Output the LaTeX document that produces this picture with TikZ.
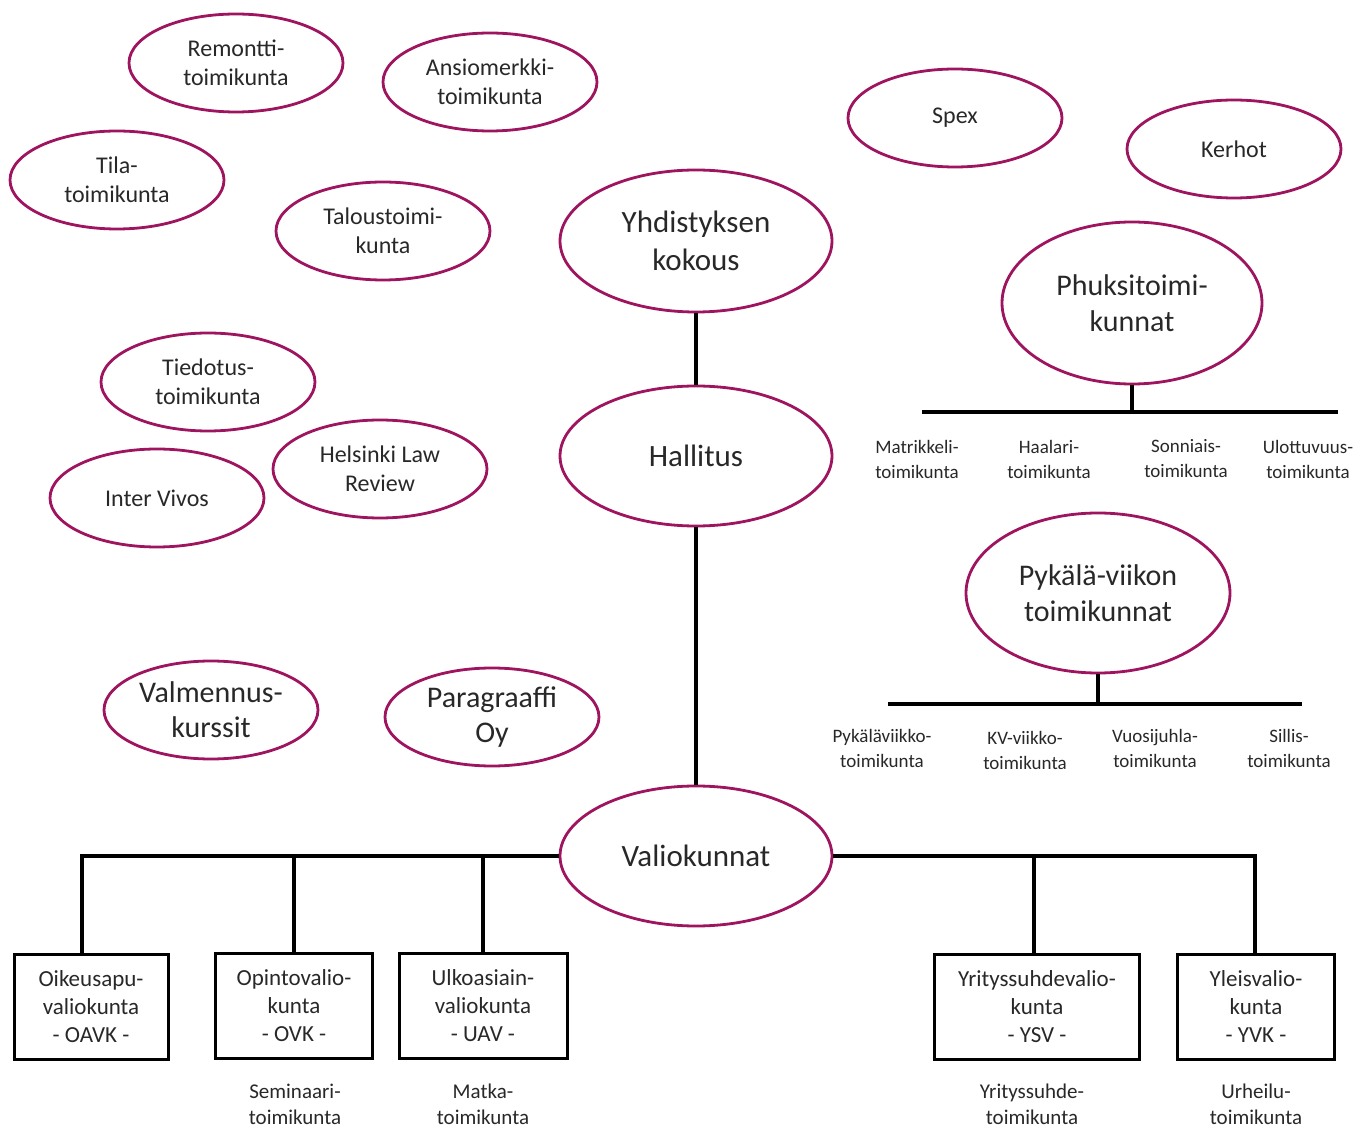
\documentclass[tikz,border=0pt]{standalone}
\usepackage{fontspec}
\setmainfont{Carlito}
\usetikzlibrary{shapes.geometric}
\definecolor{elc}{RGB}{158,20,95}
\definecolor{txt}{RGB}{40,40,40}
\tikzset{
  ell/.style={ellipse, draw=elc, line width=1.4pt, inner sep=0pt, align=center, text=txt},
  sml/.style={ell, minimum width=107pt, minimum height=49pt, font=\fontsize{12}{14.5}\selectfont},
  big/.style={ell, font=\fontsize{15.5}{19}\selectfont},
  vbox/.style={draw=black, line width=1.5pt, inner sep=0pt, align=center, text=txt, minimum height=52.5pt, font=\fontsize{11.5}{14}\selectfont},
  lab/.style={align=center, text=txt, inner sep=0pt, font=\fontsize{9.5}{12.5}\selectfont},
  blab/.style={align=center, text=txt, inner sep=0pt, font=\fontsize{10.5}{13}\selectfont},
  con/.style={draw=black, line width=2pt}
}
\begin{document}
\begin{tikzpicture}[x=0.5pt,y=-0.5pt]
\useasboundingbox (0,0) rectangle (1372,1128);
% small ellipses
\node[sml] (rem) at (236,63) {Remontti-\\toimikunta};
\node[sml] (ans) at (490,82) {Ansiomerkki-\\toimikunta};
\node[sml] (tila) at (117,180) {Tila-\\toimikunta};
\node[sml] (tal) at (383,231) {Taloustoimi-\\kunta};
\node[sml] (spex) at (955,118) {Spex};
\node[sml] (ker) at (1234,149) {Kerhot};
\node[sml] (tie) at (208,382) {Tiedotus-\\toimikunta};
\node[sml] (hlr) at (380,469) {Helsinki Law\\Review};
\node[sml] (iv) at (157,498) {Inter Vivos};
\node[sml, font=\fontsize{15}{17.5}\selectfont] (val1) at (211,710) {Valmennus-\\kurssit};
\node[sml, font=\fontsize{15}{17.5}\selectfont] (par) at (492,717) {Paragraaffi\\Oy};
% big ellipses
\node[big, minimum width=136pt, minimum height=71pt] (yk) at (696,241) {Yhdistyksen\\kokous};
\node[big, minimum width=136pt, minimum height=70pt] (hal) at (696,456) {Hallitus};
\node[big, minimum width=136pt, minimum height=70pt] (val) at (696,856) {Valiokunnat};
\node[big, minimum width=130pt, minimum height=81pt, font=\fontsize{15}{18}\selectfont] (phu) at (1132,303) {Phuksitoimi-\\kunnat};
\node[big, minimum width=132pt, minimum height=80pt, font=\fontsize{15}{18}\selectfont] (pyk) at (1098,593) {Pykälä-viikon\\toimikunnat};
% boxes
\node[vbox, minimum width=77pt] (oavk) at (91,1007) {Oikeusapu-\\valiokunta\\- OAVK -};
\node[vbox, minimum width=78.5pt] (ovk) at (294,1006) {Opintovalio-\\kunta\\- OVK -};
\node[vbox, minimum width=84pt] (uav) at (483,1006) {Ulkoasiain-\\valiokunta\\- UAV -};
\node[vbox, minimum width=102.5pt] (ysv) at (1037,1007) {Yrityssuhdevalio-\\kunta\\- YSV -};
\node[vbox, minimum width=78.5pt] (yvk) at (1256,1007) {Yleisvalio-\\kunta\\- YVK -};
% labels under boxes
\node[blab] (sem) at (295,1104) {Seminaari-\\toimikunta};
\node[blab] (mat) at (483,1104) {Matka-\\toimikunta};
\node[blab] (yri) at (1032,1104) {Yrityssuhde-\\toimikunta};
\node[blab] (urh) at (1256,1104) {Urheilu-\\toimikunta};
% phuksi labels
\node[lab] (p1) at (917,459) {Matrikkeli-\\toimikunta};
\node[lab] (p2) at (1049,459) {Haalari-\\toimikunta};
\node[lab] (p3) at (1186,459) {Sonniais-\\toimikunta};
\node[lab] (p4) at (1308,459) {Ulottuvuus-\\toimikunta};
% pykala labels
\node[lab] (k1) at (882,748) {Pykäläviikko-\\toimikunta};
\node[lab] (k2) at (1025,750) {KV-viikko-\\toimikunta};
\node[lab] (k3) at (1155,748) {Vuosijuhla-\\toimikunta};
\node[lab] (k4) at (1289,748) {Sillis-\\toimikunta};
% coordinates
\coordinate (phl) at (922,412);
\coordinate (phr) at (1338,412);
\coordinate (pyl) at (888,704);
\coordinate (pyr) at (1302,704);
\coordinate (vl) at (82,856);
\coordinate (vr) at (1255,856);
\coordinate (vysv) at (1034,856);
% connectors
\draw[con] (yk.south) -- (hal.north);
\draw[con] (hal.south) -- (val.north);
\draw[con] (phu.south) -- (phu.south |- phl);
\draw[con] (phl) -- (phr);
\draw[con] (pyk.south) -- (pyk.south |- pyl);
\draw[con] (pyl) -- (pyr);
\draw[con] (val.west) -- (vl) -- (vl |- oavk.north);
\draw[con] (val.west -| ovk.north) -- (ovk.north);
\draw[con] (val.west -| uav.north) -- (uav.north);
\draw[con] (val.east) -- (vr) -- (vr |- yvk.north);
\draw[con] (vysv) -- (vysv |- ysv.north);
\end{tikzpicture}
\end{document}
